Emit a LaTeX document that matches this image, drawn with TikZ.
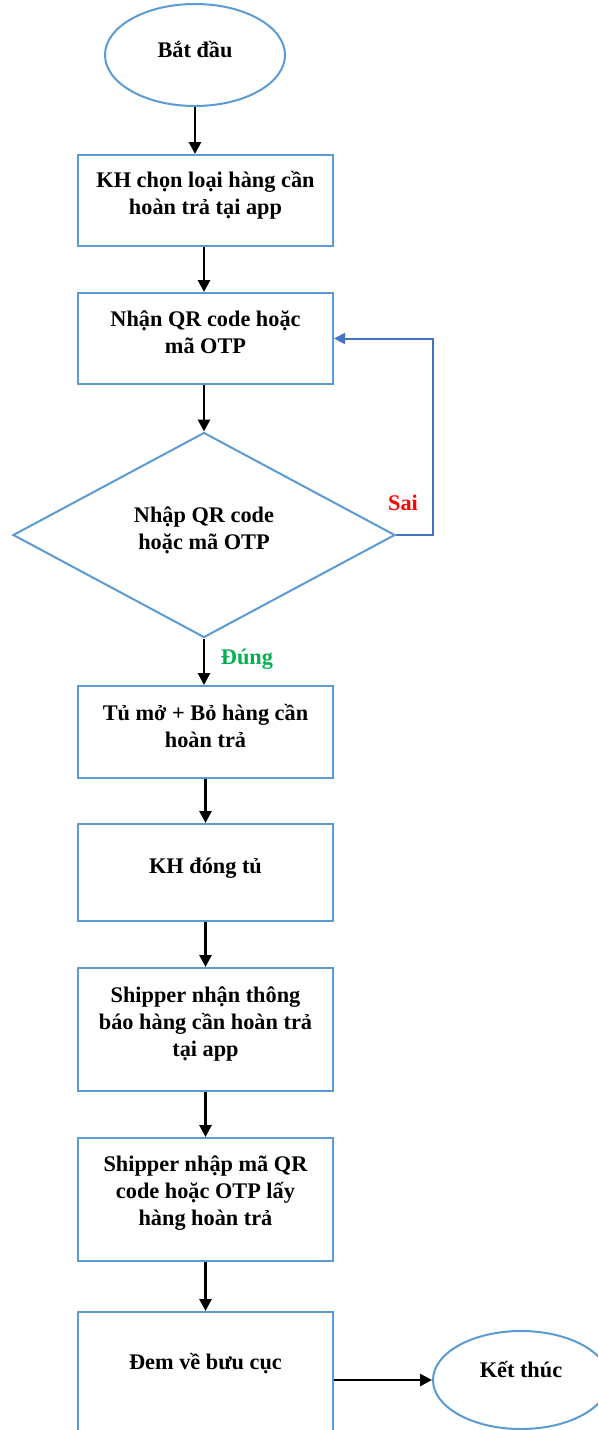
\documentclass[tikz,border=0pt]{standalone}
\usepackage{fontspec}
\setmainfont{Liberation Serif}
\usetikzlibrary{shapes.geometric,arrows.meta}
\definecolor{boxblue}{HTML}{5B9BD5}
\definecolor{loopblue}{HTML}{4472C4}
\definecolor{yesgreen}{HTML}{00B050}
\definecolor{nored}{HTML}{FF0000}
\tikzset{
  shapeline/.style={draw=boxblue, line width=2pt, inner sep=0pt},
  stepbox/.style={shapeline, rectangle, minimum width=255pt},
  terminal/.style={shapeline, ellipse},
  decision/.style={shapeline, diamond, minimum width=382pt, minimum height=205pt},
  txt/.style={font=\fontsize{22.3}{26.8}\selectfont\bfseries, align=center, inner sep=0pt},
  flow/.style={line width=2.7pt, -{Triangle[length=12pt,width=12pt]}},
  backflow/.style={draw=loopblue, line width=2pt, -{Triangle[length=11pt,width=11pt]}}
}
\begin{document}
\begin{tikzpicture}[x=1pt,y=-1pt]
\clip (0,0) rectangle (598,1430);
\fill[white] (0,0) rectangle (598,1430);

% shapes
\node[terminal, minimum width=180pt, minimum height=102pt] (start) at (195,55) {};
\node[stepbox, minimum height=91pt] (b1) at (205.5,200.5) {};
\node[stepbox, minimum height=91pt] (b2) at (205.5,338.5) {};
\node[decision] (dia) at (204,535) {};
\node[stepbox, minimum height=92pt] (b3) at (205.5,732) {};
\node[stepbox, minimum height=97pt] (b4) at (205.5,872.5) {};
\node[stepbox, minimum height=123pt] (b5) at (205.5,1029.5) {};
\node[stepbox, minimum height=123pt] (b6) at (205.5,1199.5) {};
\node[stepbox, minimum height=140pt] (b7) at (205.5,1382) {};
\node[terminal, minimum width=176pt, minimum height=98pt] (end) at (521,1380) {};

% texts
\node[txt] (t0) at (195,50) {Bắt đầu};
\node[txt] (t1) at (205.5,195) {KH chọn loại hàng cần\\hoàn trả tại app};
\node[txt] (t2) at (205.5,332) {Nhận QR code hoặc\\mã OTP};
\node[txt] (td) at (204,530) {Nhập QR code\\hoặc mã OTP};
\node[txt] (t3) at (205.5,726) {Tủ mở + Bỏ hàng cần\\hoàn trả};
\node[txt] (t4) at (205.5,868) {KH đóng tủ};
\node[txt] (t5) at (205.5,1024) {Shipper nhận thông\\báo hàng cần hoàn trả\\tại app};
\node[txt] (t6) at (205.5,1193) {Shipper nhập mã QR\\code hoặc OTP lấy\\hàng hoàn trả};
\node[txt] (t7) at (205.5,1364) {Đem về bưu cục};
\node[txt] (te) at (521,1370) {Kết thúc};
\node[txt, text=nored] (sai) at (403,503) {Sai};
\node[txt, text=yesgreen] (dung) at (247,659) {Đúng};

% connectors
\draw[flow] (start.south) -- (start.south |- b1.north);
\draw[flow] (dia.north |- b1.south) -- (dia.north |- b2.north);
\draw[flow] (dia.north |- b2.south) -- (dia.north);
\draw[flow] (dia.south) -- (dia.south |- b3.north);
\draw[flow] (b3.south) -- (b4.north);
\draw[flow] (b4.south) -- (b5.north);
\draw[flow] (b5.south) -- (b6.north);
\draw[flow] (b6.south) -- (b7.north);
\draw[flow] (b7.east |- end.west) -- (end.west);
\draw[backflow] (dia.east) -- ++(37,0) |- (b2.east);
\end{tikzpicture}
\end{document}
